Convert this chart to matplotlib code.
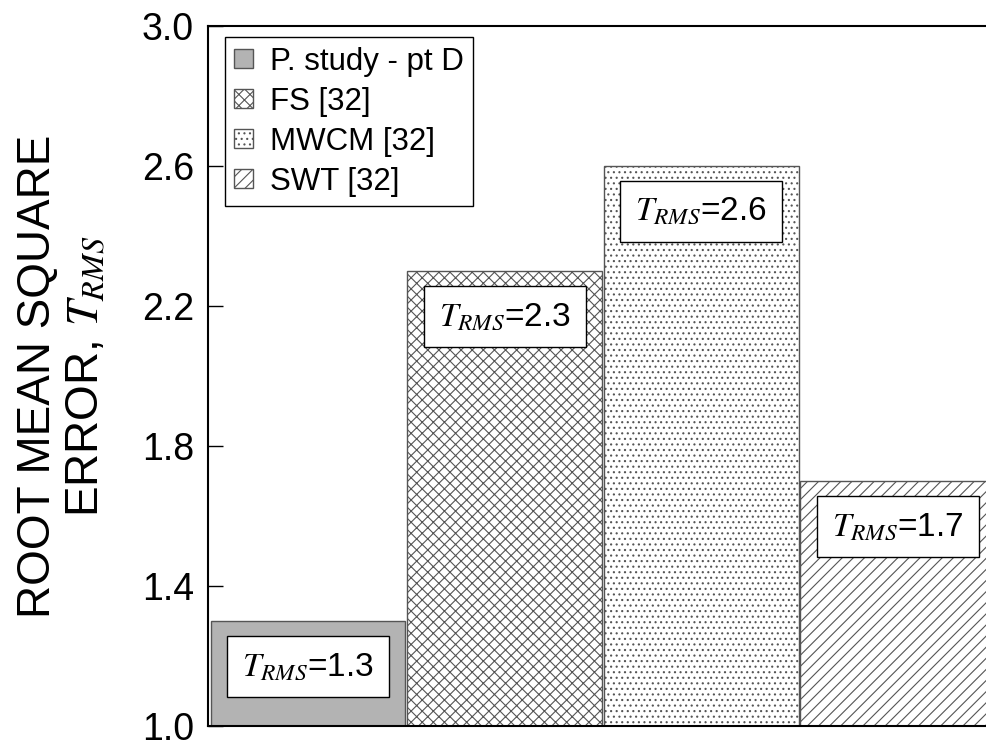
import numpy as np
import matplotlib.pyplot as plt

plt.rcParams['font.family'] = ['Liberation Sans', 'DejaVu Sans']
plt.rcParams['mathtext.fontset'] = 'stix'
plt.rcParams['hatch.linewidth'] = 0.8

# data
methods = ['P. study - pt D', 'FS [32]', 'MWCM [32]', 'SWT [32]']
t_rms = [1.3, 2.3, 2.6, 1.7]
y_ticks = [1.0, 1.4, 1.8, 2.2, 2.6, 3.0]

# styles
faces = ['#b3b3b3', 'white', 'white', 'white']
hatches = [None, 'xxx', '...', '///']

fig = plt.figure(figsize=(9.86, 7.45), dpi=100)
ax = fig.add_axes([208 / 986, 1 - 726 / 745, (996 - 208) / 986, 700 / 745])

x = np.arange(len(methods))
for i in range(len(methods)):
    ax.bar(x[i], t_rms[i] - 1.0, bottom=1.0, width=0.99, color=faces[i],
           edgecolor='#555555', linewidth=1.0, hatch=hatches[i], label=methods[i])
    # label box inside each bar
    ax.text(x[i], t_rms[i] - 0.13, r'$T_{RMS}$=%.1f' % t_rms[i], fontsize=24,
            ha='center', va='center',
            bbox=dict(boxstyle='square,pad=0.45', facecolor='white',
                      edgecolor='black', linewidth=1.0))

ax.set_xlim(-0.51, 3.5)
ax.set_ylim(1.0, 3.0)
ax.set_yticks(y_ticks)
ax.set_yticklabels(['%.1f' % v for v in y_ticks])
ax.set_xticks([])
ax.tick_params(axis='y', direction='in', length=11, width=1.0, labelsize=27, pad=10)
for s in ax.spines.values():
    s.set_linewidth(1.5)

ax.set_ylabel('ROOT MEAN SQUARE\nERROR, $T_{RMS}$', fontsize=33, labelpad=24,
              linespacing=1.15)

leg = ax.legend(loc='upper left', bbox_to_anchor=(0.0216, 0.984), borderaxespad=0,
                fontsize=22.5, frameon=True, fancybox=False, framealpha=1,
                edgecolor='black', handlelength=0.58, handleheight=0.58,
                handletextpad=0.55, labelspacing=0.32, borderpad=0.3)
leg.get_frame().set_linewidth(1.0)

fig.savefig('out.png', dpi=100)
